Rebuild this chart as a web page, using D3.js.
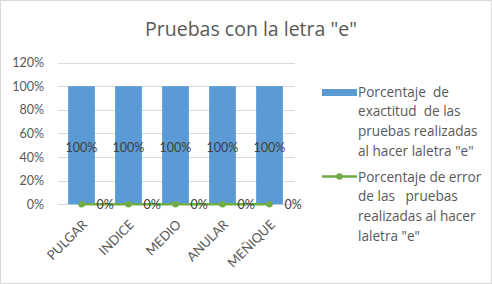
<!DOCTYPE html>
<html>
<head>
<meta charset="utf-8">
<script src="https://cdn.jsdelivr.net/npm/d3@7"></script>
<style>
  body { margin: 0; background: #fff; }
  svg text { font-family: Lato, "Open Sans", sans-serif; white-space: pre; }
  svg text.wide { font-family: "Open Sans", Lato, sans-serif; }
</style>
</head>
<body>
<svg id="chart" width="492" height="284"></svg>
<script>
// Data
const categories = ["PULGAR", "INDICE", "MEDIO", "ANULAR", "MEÑIQUE"];
const exactitud = [1, 1, 1, 1, 1];
const error = [0, 0, 0, 0, 0];
const yTicks = [0, 0.2, 0.4, 0.6, 0.8, 1.0, 1.2];
const legendExact = ["Porcentaje  de", "exactitud  de las", "pruebas realizadas", "al hacer laletra \"e\""];
const legendError = ["Porcentaje de error", "de las   pruebas", "realizadas al hacer", "laletra \"e\""];

const W = 492, H = 284;
const svg = d3.select("#chart");
const textColor = "#595959";
const pct = d3.format(".0%");

// Background + border
svg.append("rect")
    .attr("x", 0.5).attr("y", 0.5)
    .attr("width", W - 1).attr("height", H - 1)
    .attr("fill", "#fff")
    .attr("stroke", "#d9d9d9");

// Title
svg.append("text")
    .attr("class", "wide")
    .attr("x", 251).attr("y", 36)
    .attr("text-anchor", "middle")
    .style("font-size", "19.5px")
    .style("fill", textColor)
    .text("Pruebas con la letra \"e\"");

// Scales
const x = d3.scaleBand()
    .domain(categories)
    .range([58, 293])
    .paddingInner(0.43)
    .paddingOuter(0.215);

const y = d3.scaleLinear()
    .domain([0, 1.2])
    .range([204.3, 62.5]);

// Grid lines
svg.append("g")
    .selectAll("line")
    .data(yTicks)
    .enter().append("line")
    .attr("x1", 58).attr("x2", 295)
    .attr("y1", d => Math.round(y(d)) + 0.5)
    .attr("y2", d => Math.round(y(d)) + 0.5)
    .attr("stroke", "#d9d9d9");

// Y axis labels
svg.append("g")
    .selectAll("text")
    .data(yTicks)
    .enter().append("text")
    .attr("x", 44)
    .attr("y", d => y(d) + 4.5)
    .attr("text-anchor", "end")
    .style("font-size", "12.5px")
    .style("fill", textColor)
    .text(d => pct(d));

// Bars
svg.append("g")
    .selectAll("rect")
    .data(exactitud)
    .enter().append("rect")
    .attr("x", (d, i) => x(categories[i]))
    .attr("y", d => y(d))
    .attr("width", x.bandwidth())
    .attr("height", d => y(0) - y(d))
    .attr("fill", "#5b9bd5");

// Bar labels
svg.append("g")
    .selectAll("text")
    .data(exactitud)
    .enter().append("text")
    .attr("x", (d, i) => x(categories[i]) + x.bandwidth() / 2)
    .attr("y", d => (y(d) + y(0)) / 2 + 7)
    .attr("text-anchor", "middle")
    .style("font-size", "12.5px")
    .style("fill", "#404040")
    .text(d => pct(d));

// Error line
const cx = (d, i) => x(categories[i]) + x.bandwidth() / 2;
svg.append("path")
    .datum(error)
    .attr("d", d3.line().x(cx).y(d => y(d)))
    .attr("fill", "none")
    .attr("stroke", "#70ad47")
    .attr("stroke-width", 2.5);

svg.append("g")
    .selectAll("circle")
    .data(error)
    .enter().append("circle")
    .attr("cx", cx)
    .attr("cy", d => y(d))
    .attr("r", 3.2)
    .attr("fill", "#70ad47");

// Error labels
svg.append("g")
    .selectAll("text")
    .data(error)
    .enter().append("text")
    .attr("x", (d, i) => cx(d, i) + 15)
    .attr("y", d => y(d) + 4.8)
    .style("font-size", "12.5px")
    .style("fill", "#404040")
    .text(d => pct(d));

// X axis labels
svg.append("g")
    .selectAll("text")
    .data(categories)
    .enter().append("text")
    .attr("transform", d => `translate(${x(d) + x.bandwidth() / 2},${219}) rotate(-45)`)
    .attr("text-anchor", "end")
    .attr("dy", "0.7em")
    .style("font-size", "13px")
    .style("fill", textColor)
    .text(d => d);

// Legend
const legend = svg.append("g");
legend.append("rect")
    .attr("x", 322).attr("y", 89)
    .attr("width", 35).attr("height", 7)
    .attr("fill", "#5b9bd5");
legend.append("text")
    .attr("class", "wide")
    .selectAll("tspan")
    .data(legendExact)
    .enter().append("tspan")
    .attr("x", 358)
    .attr("y", (d, i) => 96.5 + i * 19.8)
    .style("font-size", "13.6px")
    .style("fill", textColor)
    .text(d => d);

legend.append("line")
    .attr("x1", 322).attr("x2", 357)
    .attr("y1", 176.5).attr("y2", 176.5)
    .attr("stroke", "#70ad47")
    .attr("stroke-width", 2.5);
legend.append("circle")
    .attr("cx", 339.5).attr("cy", 176.5)
    .attr("r", 3.2)
    .attr("fill", "#70ad47");
legend.append("text")
    .attr("class", "wide")
    .selectAll("tspan")
    .data(legendError)
    .enter().append("tspan")
    .attr("x", 358)
    .attr("y", (d, i) => 181.5 + i * 19.8)
    .style("font-size", "13.6px")
    .style("fill", textColor)
    .text(d => d);
</script>
</body>
</html>
